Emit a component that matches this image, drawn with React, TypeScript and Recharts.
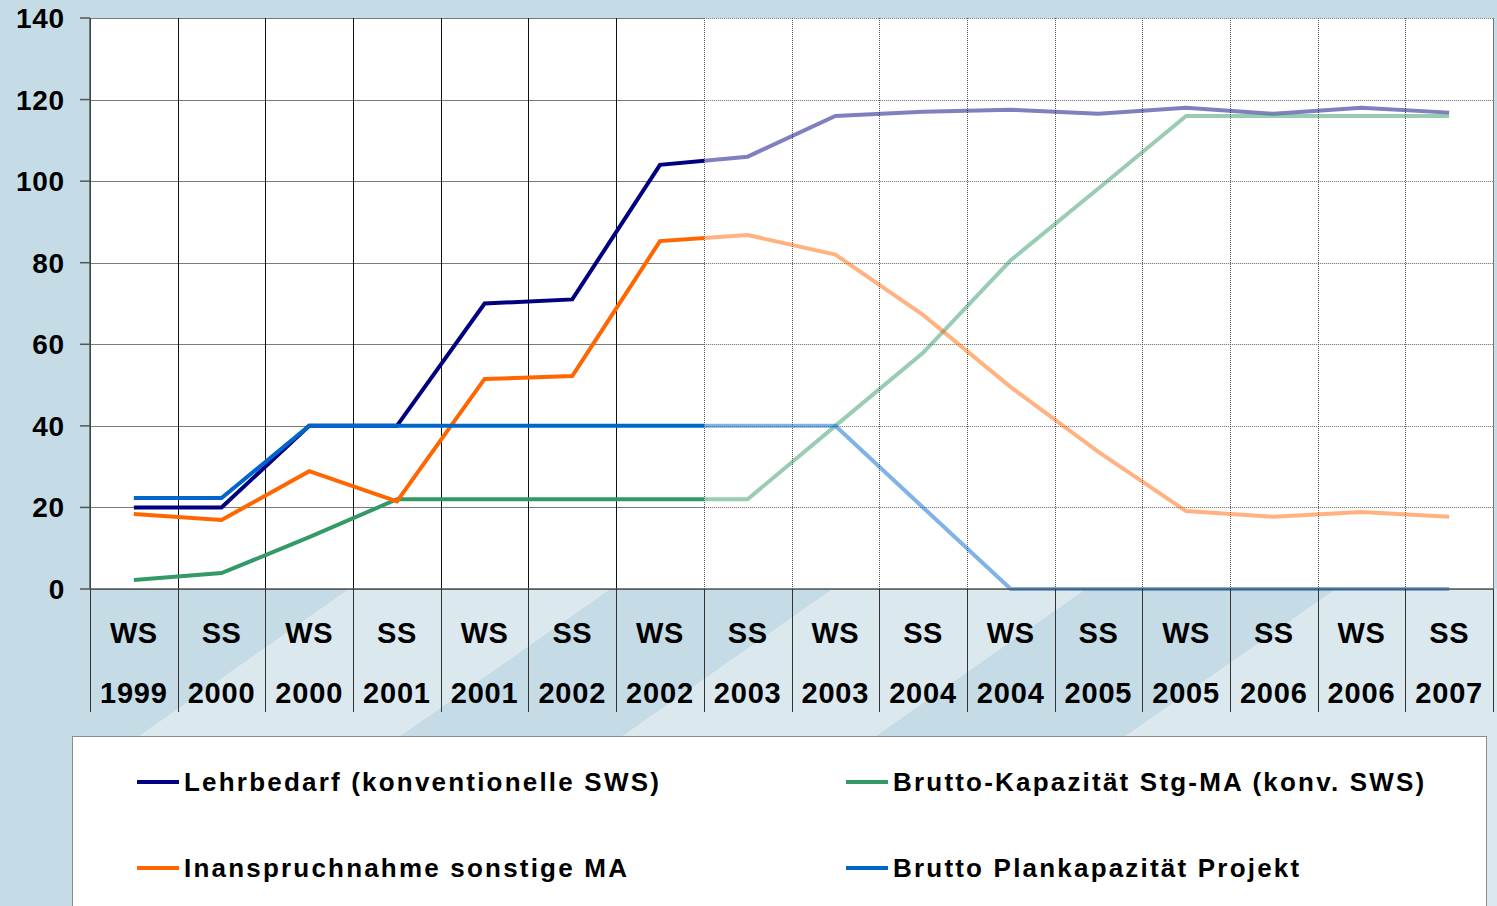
import { LineChart, Line, XAxis, YAxis, CartesianGrid, Legend } from 'recharts';

// Semester labels (two-line category ticks)
const TERMS = ['WS', 'SS', 'WS', 'SS', 'WS', 'SS', 'WS', 'SS', 'WS', 'SS', 'WS', 'SS', 'WS', 'SS', 'WS', 'SS'];
const YEARS = ['1999', '2000', '2000', '2001', '2001', '2002', '2002', '2003', '2003', '2004', '2004', '2005', '2005', '2006', '2006', '2007'];

const LEHRBEDARF = [20, 20, 40, 40, 70, 71, 104, 106, 116, 117, 117.5, 116.5, 118, 116.5, 118, 116.8];
const INANSPRUCHNAHME = [18.4, 16.9, 28.9, 21.5, 51.5, 52.2, 85.3, 86.8, 82, 67.2, 49.5, 33.6, 19.1, 17.7, 18.9, 17.7];
const KAPAZITAET = [2.2, 3.9, 12.7, 22, 22, 22, 22, 22, 40, 57.9, 80.6, 98.2, 116, 116, 116, 116];
const PLANKAPAZITAET = [22.3, 22.3, 40, 40, 40, 40, 40, 40, 40, 20, 0, 0, 0, 0, 0, 0];

const Y_TICKS = [0, 20, 40, 60, 80, 100, 120, 140];

const SERIES = [
  { key: 'lehr', name: 'Lehrbedarf (konventionelle SWS)', color: '#000080', values: LEHRBEDARF },
  { key: 'kap', name: 'Brutto-Kapazität Stg-MA (konv. SWS)', color: '#339966', values: KAPAZITAET },
  { key: 'inan', name: 'Inanspruchnahme sonstige MA', color: '#ff6600', values: INANSPRUCHNAHME },
  { key: 'plan', name: 'Brutto Plankapazität Projekt', color: '#0066cc', values: PLANKAPAZITAET },
];

// forecast part (from the middle of WS 2002 / SS 2003) is drawn washed out
const SPLIT_IDX = 6.5;

const data = TERMS.map((t, i) => {
  const row: Record<string, number | string> = { idx: i, label: `${t} ${YEARS[i]}` };
  SERIES.forEach((s) => {
    row[s.key] = s.values[i];
  });
  return row;
});

const boundaries = [...TERMS.map((_, i) => i - 0.5), TERMS.length - 0.5];

const W = 1497;
const H = 906;
const PLOT_LEFT = 90;
const PLOT_RIGHT = 1493;
const BAND = (PLOT_RIGHT - PLOT_LEFT) / TERMS.length;
const SPLIT_X = PLOT_LEFT + (SPLIT_IDX + 0.5) * BAND;
const FONT = '"Liberation Sans", Arial, sans-serif';

function HLine(props: any) {
  const { x1, x2, y1, key } = props;
  const y = Math.round(y1) + 0.5;
  return (
    <g key={key}>
      <line x1={x1} x2={SPLIT_X} y1={y} y2={y} stroke="#7a7a7a" strokeWidth={1} />
      <line x1={SPLIT_X} x2={x2} y1={y} y2={y} stroke="#6a6a6a" strokeWidth={1} strokeDasharray="1 1" />
    </g>
  );
}

function VLine(props: any) {
  const { x1, y1, y2, key } = props;
  const x = Math.round(x1) + 0.5;
  const washed = x1 > SPLIT_X - 1 && x1 < PLOT_RIGHT - 1;
  return washed ? (
    <line key={key} x1={x} x2={x} y1={y1} y2={y2} stroke="#555" strokeWidth={1} strokeDasharray="1 1" />
  ) : (
    <line key={key} x1={x} x2={x} y1={y1} y2={y2} stroke={x1 > PLOT_RIGHT - 1 ? '#777' : '#111'} strokeWidth={1} />
  );
}

function CategoryTick(props: any) {
  const { x, y, payload } = props;
  const i = Math.round(payload.value + 0.5);
  const lx = Math.round(x) + 0.5;
  return (
    <g>
      <line x1={lx} x2={lx} y1={y} y2={y + 123} stroke="#333" strokeWidth={1} />
      {i < TERMS.length && (
        <g fontFamily={FONT} fontWeight="bold" fontSize={29} fill="#000" textAnchor="middle">
          <text x={x + BAND / 2} y={y + 44} dy="0.36em" letterSpacing={0.5}>{TERMS[i]}</text>
          <text x={x + BAND / 2} y={y + 104} dy="0.36em" letterSpacing={0.8}>{YEARS[i]}</text>
        </g>
      )}
    </g>
  );
}

function LegendBox() {
  const cols = [64, 773];
  const rows = [45, 131];
  return (
    <div
      style={{
        position: 'relative',
        width: 1415,
        height: 190,
        background: '#fff',
        border: '1px solid #8c8c8c',
        boxSizing: 'border-box',
      }}
    >
      {SERIES.map((s, i) => {
        const cx = cols[i % 2];
        const cy = rows[Math.floor(i / 2)];
        return (
          <div key={s.key}>
            <div style={{ position: 'absolute', left: cx, top: cy - 2, width: 42, height: 4, background: s.color }} />
            <div
              style={{
                position: 'absolute',
                left: cx + 47,
                top: cy - 16,
                height: 32,
                lineHeight: '32px',
                whiteSpace: 'nowrap',
                fontFamily: FONT,
                fontWeight: 'bold',
                fontSize: 26,
                letterSpacing: 2.2,
                color: '#000',
              }}
            >
              {s.name}
            </div>
          </div>
        );
      })}
    </div>
  );
}

export default function App() {
  const split = SPLIT_IDX / (TERMS.length - 1);
  return (
    <div
      style={{
        position: 'absolute',
        left: 0,
        top: 0,
        width: W,
        height: H,
        overflow: 'hidden',
        backgroundColor: '#c5dbe5',
        backgroundImage:
          'linear-gradient(#c5dbe5, #c5dbe5), linear-gradient(145deg, #c5dbe5 0%, #c5dbe5 17.9%, #dbe8ee 17.9%, #dbe8ee 31.3%, #c5dbe5 31.3%, #c5dbe5 42.7%, #dbe8ee 42.7%, #dbe8ee 55.7%, #c5dbe5 55.7%, #c5dbe5 68.5%, #dbe8ee 68.5%)',
        backgroundPosition: '0 736px, 0 589px',
        backgroundSize: '72px 170px, 1497px 317px',
        backgroundRepeat: 'no-repeat, no-repeat',
      }}
    >
      <LineChart width={W} height={H} data={data} margin={{ top: 18, right: W - PLOT_RIGHT, left: 0, bottom: 194 }}>
        <defs>
          {SERIES.map((s) => (
            <linearGradient key={s.key} id={`grad-${s.key}`} x1="0" y1="0" x2="1" y2="0">
              <stop offset={0} stopColor={s.color} stopOpacity={1} />
              <stop offset={split} stopColor={s.color} stopOpacity={1} />
              <stop offset={split} stopColor={s.color} stopOpacity={0.5} />
              <stop offset={1} stopColor={s.color} stopOpacity={0.5} />
            </linearGradient>
          ))}
        </defs>
        <CartesianGrid fill="#fff" stroke="#555" horizontal={HLine} vertical={VLine} />
        <XAxis
          type="number"
          dataKey="idx"
          domain={[-0.5, TERMS.length - 0.5]}
          ticks={boundaries}
          interval={0}
          height={123}
          tickLine={false}
          tickSize={0}
          tickMargin={0}
          axisLine={{ stroke: '#555', strokeWidth: 1.5 }}
          tick={<CategoryTick />}
        />
        <YAxis
          domain={[0, 140]}
          ticks={Y_TICKS}
          interval={0}
          width={PLOT_LEFT}
          tickSize={10}
          tickMargin={15}
          axisLine={{ stroke: '#555', strokeWidth: 1.5 }}
          tickLine={{ stroke: '#555', strokeWidth: 1.5 }}
          tick={{ fontFamily: FONT, fontWeight: 'bold', fontSize: 28, fill: '#000', letterSpacing: 0.8 }}
        />
        {SERIES.map((s) => (
          <Line
            key={s.key}
            type="linear"
            dataKey={s.key}
            name={s.name}
            stroke={`url(#grad-${s.key})`}
            strokeWidth={4}
            dot={false}
            activeDot={false}
            isAnimationActive={false}
          />
        ))}
        <Legend
          layout="horizontal"
          verticalAlign="middle"
          align="center"
          wrapperStyle={{ left: 72, top: 736, width: 1415, height: 190 }}
          content={() => <LegendBox />}
        />
      </LineChart>
    </div>
  );
}
